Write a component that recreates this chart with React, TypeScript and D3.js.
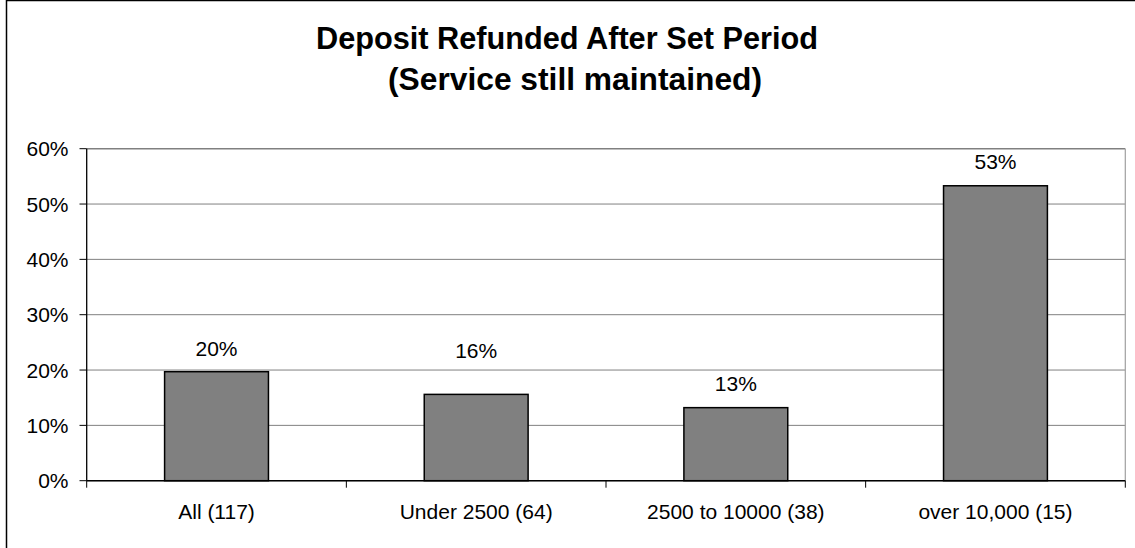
import React from "react";
import * as d3 from "d3";

const categories = ["All (117)", "Under 2500 (64)", "2500 to 10000 (38)", "over 10,000 (15)"];
const values = [0.197, 0.156, 0.132, 0.533];
const yTicks = [0, 0.1, 0.2, 0.3, 0.4, 0.5, 0.6];
const titleLines = ["Deposit Refunded After Set Period", "(Service still maintained)"];
const labelLift = [16, 36, 17, 17];

const W = 1135;
const H = 548;
const FONT = "'Liberation Sans', Arial, sans-serif";

export default function App() {
  const left = 86.7;
  const right = 1125.3;
  const top = 148.7;
  const bottom = 480.7;

  const x = d3.scaleBand<string>().domain(categories).range([left, right]).paddingInner(0.6).paddingOuter(0.3);
  const y = d3.scaleLinear().domain([0, 0.6]).range([bottom, top]);
  const fmt = d3.format(".0%");
  const step = x.step();
  const boundaries = d3.range(categories.length + 1).map((i) => left + i * step);
  const titleX = [567, 575];
  const titleLen = [502, 374];

  return (
    <svg
      width={W}
      height={H}
      style={{ position: "absolute", left: 0, top: 0, background: "#fff" }}
      fontFamily={FONT}
    >
      <rect x={0} y={0} width={W} height={H} fill="#fff" />
      <rect x={6.5} y={0.5} width={W + 20} height={H + 20} fill="none" stroke="#000" strokeWidth={1.5} />

      {titleLines.map((t, i) => (
        <text
          key={i}
          x={titleX[i]}
          y={48.5 + i * 41.5}
          textAnchor="middle"
          fontSize={30.5}
          fontWeight="bold"
          fill="#000"
          textLength={titleLen[i]}
          lengthAdjust="spacingAndGlyphs"
        >
          {t}
        </text>
      ))}

      {/* gridlines */}
      {yTicks.map((t) => (
        <line key={t} x1={left} x2={right} y1={y(t)} y2={y(t)} stroke="#808080" strokeWidth={t === 0.6 ? 1.5 : 1} />
      ))}
      <line x1={right} x2={right} y1={top} y2={bottom} stroke="#a0a0a0" strokeWidth={1.2} />

      {/* y ticks & labels */}
      {yTicks.map((t) => (
        <g key={"yt" + t}>
          <line x1={79.5} x2={left} y1={y(t)} y2={y(t)} stroke="#000" strokeWidth={1} />
          <text x={68.5} y={y(t) + 7.5} textAnchor="end" fontSize={21} fill="#000">
            {fmt(t)}
          </text>
        </g>
      ))}

      {/* bars */}
      {categories.map((c, i) => (
        <rect
          key={c}
          x={x(c)}
          y={y(values[i])}
          width={x.bandwidth()}
          height={y(0) - y(values[i])}
          fill="#808080"
          stroke="#000"
          strokeWidth={1.5}
        />
      ))}

      {/* axes */}
      <line x1={left} x2={left} y1={top} y2={bottom} stroke="#000" strokeWidth={1.3} />
      <line x1={left} x2={right} y1={bottom} y2={bottom} stroke="#000" strokeWidth={1.5} />
      {boundaries.map((b, i) => (
        <line key={"xt" + i} x1={b} x2={b} y1={bottom} y2={bottom + 7} stroke="#000" strokeWidth={1} />
      ))}

      {/* category labels */}
      {categories.map((c) => (
        <text key={"cl" + c} x={(x(c) as number) + x.bandwidth() / 2} y={519} textAnchor="middle" fontSize={21} fill="#000">
          {c}
        </text>
      ))}

      {/* value labels */}
      {categories.map((c, i) => (
        <text
          key={"vl" + c}
          x={(x(c) as number) + x.bandwidth() / 2}
          y={y(values[i]) - labelLift[i]}
          textAnchor="middle"
          fontSize={21}
          fill="#000"
        >
          {fmt(values[i])}
        </text>
      ))}
    </svg>
  );
}
